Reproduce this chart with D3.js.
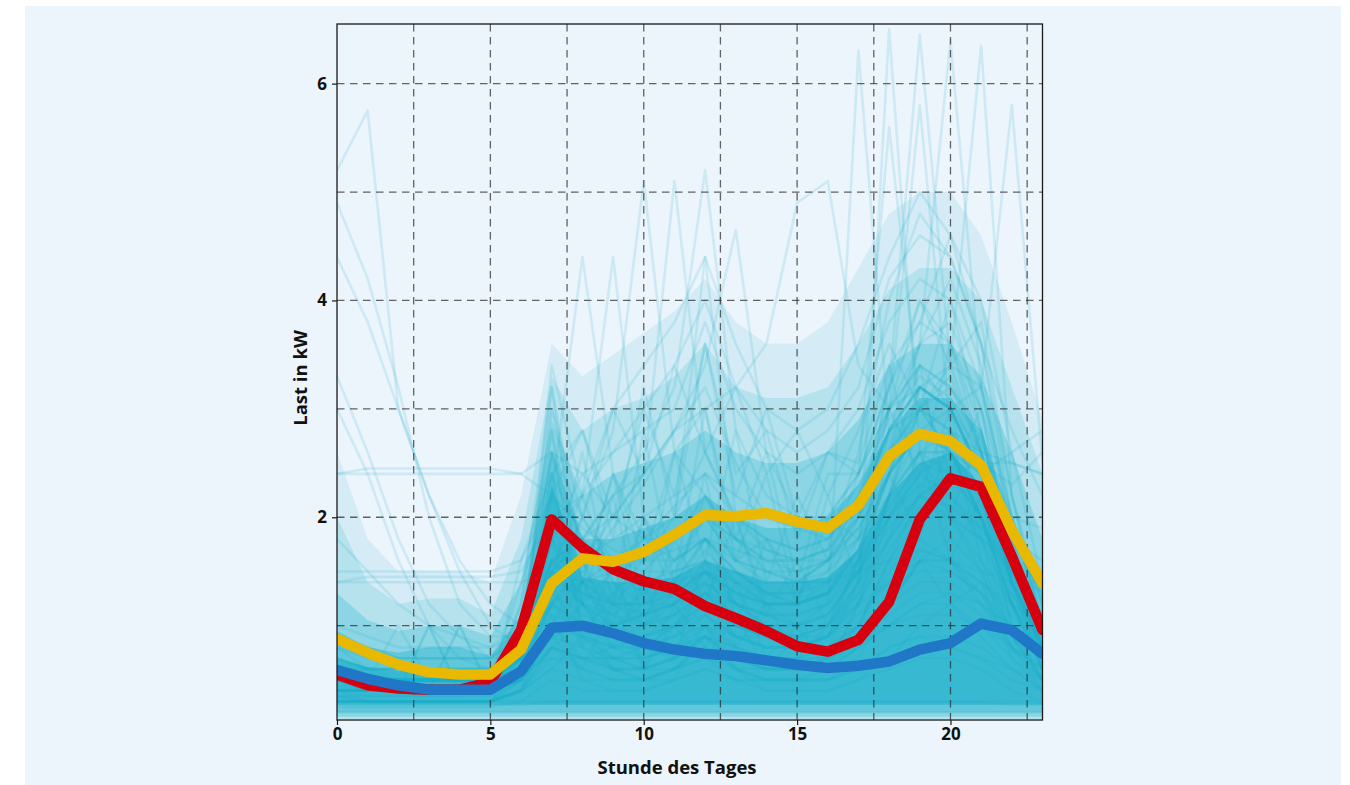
<!DOCTYPE html>
<html>
<head>
<meta charset="utf-8">
<script src="https://cdn.jsdelivr.net/npm/d3@7"></script>
<style>
  html, body { margin: 0; padding: 0; background: #ffffff; }
  svg { display: block; }
  text { font-family: "Open Sans", "Noto Sans", sans-serif; font-weight: 700; fill: #111; }
</style>
</head>
<body>
<svg id="chart" width="1350" height="785"></svg>
<script>
// ---------------- data ----------------
const hours = [0,1,2,3,4,5,6,7,8,9,10,11,12,13,14,15,16,17,18,19,20,21,22,23];

const xTickValues = [0, 5, 10, 15, 20];
const yTickValues = [2, 4, 6];
const xGridValues = [2.5, 5, 7.5, 10, 12.5, 15, 17.5, 20, 22.5];
const yGridValues = [1, 2, 3, 4, 5, 6];

const xTitle = "Stunde des Tages";
const yTitle = "Last in kW";

// highlighted average profiles (kW)
const redSeries    = [0.55,0.45,0.42,0.41,0.41,0.48,0.96,1.98,1.72,1.52,1.41,1.34,1.18,1.07,0.95,0.81,0.76,0.87,1.22,1.98,2.36,2.28,1.64,0.96];
const yellowSeries = [0.88,0.75,0.64,0.57,0.55,0.55,0.78,1.39,1.62,1.59,1.68,1.84,2.02,2.01,2.04,1.96,1.90,2.11,2.56,2.77,2.70,2.48,1.88,1.39];
const blueSeries   = [0.59,0.51,0.45,0.41,0.41,0.41,0.58,0.98,1.00,0.93,0.84,0.78,0.74,0.72,0.68,0.64,0.61,0.63,0.67,0.78,0.84,1.02,0.96,0.74];

// density of the many overlapping household curves: upper edges (kW) of nested layers
const cloudEdge1 = [2.6,1.8,1.5,1.5,1.5,1.4,2.2,3.6,3.3,3.5,3.7,3.9,4.2,3.8,3.6,3.6,3.8,4.3,4.8,5.0,5.0,4.6,3.8,2.9];
const cloudEdge2 = [2.0,1.4,1.2,1.25,1.25,1.1,1.8,3.3,2.8,3.0,3.1,3.3,3.6,3.2,3.1,3.1,3.2,3.6,4.1,4.3,4.3,4.0,3.2,2.4];
const cloudEdge3 = [1.3,1.05,0.95,1.0,1.0,0.9,1.4,2.9,2.2,2.4,2.5,2.6,2.8,2.6,2.5,2.5,2.6,2.9,3.4,3.6,3.6,3.3,2.6,1.8];
const cloudEdge4 = [0.95,0.8,0.75,0.8,0.8,0.72,1.1,2.6,1.8,1.8,1.9,2.0,2.2,2.0,1.9,1.9,2.0,2.3,2.8,3.1,3.1,2.8,2.0,1.4];
const cloudEdge5 = [0.7,0.62,0.58,0.6,0.6,0.58,0.9,2.3,1.45,1.4,1.4,1.45,1.6,1.5,1.4,1.4,1.45,1.7,2.2,2.5,2.6,2.3,1.6,1.05];
const cloudFloors = [0.14, 0.14, 0.16, 0.2, 0.27];

// individual household load profiles (kW)
const householdProfiles = [
  [.3,.3,.3,.3,.3,.3,.3,.3,.3,.3,.3,.3,.3,.3,.3,.3,.3,.3,.3,.3,.3,.3,.3,.3],
  [.2,.2,.2,.2,.2,.2,.2,.2,.2,.2,.2,.2,.2,.2,.2,.2,.2,.2,.2,.2,.2,.2,.2,.2],
  [.4,.35,.35,.35,.35,.4,.5,.9,.6,.5,.5,.6,.7,.5,.5,.5,.5,.6,.8,.9,.8,.7,.6,.5],
  [.5,.4,.4,.4,.4,.4,.8,1.6,1.2,.9,.8,.7,.9,.7,.6,.6,.6,.8,1.2,1.6,1.5,1.3,.9,.7],
  [.6,.5,.4,.4,.4,.5,1.2,2.6,1.8,1.3,1.1,1.2,1.5,1.0,.9,.8,.9,1.2,2.0,2.6,2.4,2.0,1.4,.9],
  [.3,.3,.3,.3,.3,.3,.4,1.1,.5,.4,.4,.5,1.0,.6,.4,.4,.4,.5,.7,1.0,1.2,.9,.6,.4],
  [.8,.6,.5,.5,.5,.5,.6,.9,1.4,2.4,1.2,2.6,1.6,2.8,1.4,2.2,1.6,1.9,2.4,3.4,2.0,2.8,1.6,1.1],
  [.5,.5,.5,.5,.5,.5,.6,.7,.7,.8,.9,1.0,1.1,.9,.9,.8,.8,.9,1.0,1.2,1.3,1.2,1.0,.7],
  [1.4,1.45,1.45,1.45,1.45,1.45,1.5,2.0,1.8,1.6,1.5,1.5,1.6,1.5,1.4,1.4,1.4,1.6,2.0,2.3,2.2,1.9,1.6,1.5],
  [2.4,2.45,2.45,2.45,2.45,2.45,2.4,2.2,1.5,1.2,1.0,1.1,1.3,1.0,.9,.9,1.0,1.4,1.8,2.2,2.4,2.5,2.5,2.4],
  [5.2,5.75,3.0,2.2,1.6,1.2,1.0,1.5,1.2,1.0,.9,1.0,1.2,1.0,.9,.9,1.0,1.3,1.8,2.2,2.0,1.8,1.6,1.4],
  [4.4,3.8,3.0,2.2,1.5,1.0,.8,1.2,.9,.7,.6,.7,.9,.7,.6,.6,.7,.9,1.3,1.7,1.6,1.4,1.2,1.0],
  [3.3,2.6,1.8,1.2,.9,.7,.7,1.3,1.0,.8,.8,.9,1.1,.9,.8,.8,.9,1.2,1.7,2.1,2.0,1.8,1.5,1.3],
  [.5,.4,.4,1.0,.4,.4,.7,3.4,2.2,1.4,1.0,1.3,1.8,1.2,1.0,.9,1.0,1.6,2.8,3.2,3.0,2.4,1.3,.8],
  [.4,.4,.4,.4,1.0,.4,.9,3.0,1.6,1.0,.8,1.0,1.4,.9,.8,.8,.9,1.3,2.2,3.0,3.3,2.6,1.5,.8],
  [.6,.5,.5,.5,.5,.5,1.4,2.2,2.8,2.0,3.0,2.2,3.6,2.4,2.8,1.8,2.6,2.5,3.4,3.8,3.6,3.0,2.0,1.2],
  [.3,.3,.3,.3,.3,.3,.5,1.8,.9,.6,.5,.6,.8,.6,.5,.5,.5,.7,1.2,1.6,1.8,1.5,.9,.5],
  [.7,.6,.6,.6,.6,.6,.8,1.2,1.5,1.9,2.3,2.8,3.2,2.5,2.0,1.9,1.8,2.1,2.8,3.4,3.2,2.7,1.9,1.2],
  [.4,.3,.3,.3,.3,.3,.4,.6,.9,1.3,1.6,2.0,4.4,2.0,1.2,1.0,1.1,1.5,2.0,2.4,2.6,2.2,1.2,.6],
  [.9,.8,.7,.7,.7,.7,.9,1.4,1.3,1.2,1.2,1.3,1.5,1.3,1.2,1.2,1.3,1.5,1.9,2.2,2.1,1.9,1.5,1.1],
  [.3,.3,.3,.3,.3,.3,.4,.8,.7,.7,.8,1.0,1.3,1.0,.9,.8,.9,1.4,6.5,2.6,2.0,1.5,.8,.5],
  [.4,.4,.4,.4,.4,.4,.6,1.2,1.0,.9,1.0,1.2,1.6,1.2,1.1,1.0,1.2,6.3,2.8,3.0,2.6,2.0,1.2,.7],
  [.5,.4,.4,.4,.4,.4,.7,1.5,1.2,1.0,1.1,1.4,1.8,1.4,1.2,1.2,1.4,2.0,3.2,6.45,3.4,2.6,1.5,.8],
  [.6,.5,.5,.5,.5,.5,.8,1.6,1.4,1.2,1.2,1.4,1.8,1.5,1.3,1.3,1.5,2.1,3.0,3.6,6.4,3.2,2.0,1.0],
  [.5,.5,.5,.5,.5,.5,.7,1.3,1.1,1.0,1.1,1.3,1.7,1.4,1.2,1.2,1.3,1.8,2.6,3.2,3.4,6.35,2.2,1.0],
  [.6,.5,.5,.5,.5,.5,.6,1.0,.9,.8,.9,1.1,1.5,1.2,1.0,1.0,1.1,1.5,2.2,2.8,3.0,3.2,5.8,2.5],
  [.4,.4,.4,.4,.4,.4,.6,1.4,1.2,1.1,1.3,1.6,2.0,1.6,1.5,1.4,1.6,2.4,5.6,3.0,2.6,2.0,1.2,.6],
  [.5,.4,.4,.4,.4,.4,.6,1.2,1.0,1.0,1.2,1.5,2.0,1.6,1.4,1.4,1.6,2.2,3.0,5.8,2.8,2.2,1.4,.8],
  [.4,.4,.4,.4,.4,.4,.8,1.6,1.8,2.2,2.6,3.2,5.2,2.8,2.2,2.0,2.0,2.4,3.0,3.4,3.0,2.4,1.4,.8],
  [.5,.5,.5,.5,.5,.5,.7,1.4,2.0,2.8,5.1,2.6,2.2,1.8,1.6,1.5,1.6,2.0,2.6,3.0,2.8,2.2,1.3,.7],
  [.5,.5,.5,.5,.5,.5,.7,1.5,1.8,2.2,2.4,5.1,2.6,2.0,1.7,1.6,1.7,2.1,2.8,3.2,3.0,2.4,1.4,.8],
  [.4,.4,.4,.4,.4,.4,.6,1.2,1.6,2.0,2.4,2.8,3.4,4.65,2.6,2.0,1.9,2.3,2.9,3.3,3.1,2.5,1.4,.7],
  [.4,.4,.4,.4,.4,.4,.7,2.2,4.4,2.4,1.8,1.6,1.8,1.5,1.3,1.2,1.3,1.7,2.4,2.8,2.6,2.0,1.2,.6],
  [.4,.4,.4,.4,.4,.4,.7,2.0,2.2,4.4,2.0,1.6,1.8,1.5,1.3,1.2,1.3,1.7,2.4,2.8,2.6,2.0,1.2,.6],
  [.6,.6,.6,.6,.6,.6,.8,1.6,1.8,2.0,2.4,2.8,3.0,3.2,3.6,4.9,5.1,3.4,3.0,3.2,3.0,2.4,1.5,.9],
  [.5,.5,.5,.5,.5,.5,.8,1.8,2.4,2.6,2.8,3.0,3.8,3.0,2.6,2.4,2.6,3.0,3.8,4.2,4.0,3.2,2.0,1.0],
  [.3,.3,.3,.3,.3,.3,.4,.6,.5,.5,.5,.6,.8,.6,.5,.5,.5,.6,.8,.9,.9,.8,.6,.4],
  [.35,.3,.3,.3,.3,.3,.4,.7,.6,.5,.5,.5,.6,.5,.5,.5,.5,.6,.7,.8,.8,.7,.5,.4],
  [.45,.4,.4,.4,.4,.4,.5,.8,.7,.7,.7,.8,.9,.8,.7,.7,.7,.8,1.0,1.1,1.1,1.0,.8,.6],
  [.6,.55,.5,.5,.5,.5,.7,1.1,1.0,.9,.9,1.0,1.2,1.0,.9,.9,.9,1.1,1.4,1.6,1.6,1.4,1.1,.8],
  [.25,.25,.25,.25,.25,.25,.3,.5,.4,.4,.4,.5,.6,.5,.4,.4,.4,.5,.6,.7,.7,.6,.4,.3],
  [.7,.6,.6,.6,.6,.6,.7,.9,1.0,1.0,1.1,1.2,1.3,1.2,1.1,1.0,1.0,1.2,1.4,1.5,1.5,1.3,1.0,.8],
  [.5,.5,1.0,.5,.5,.5,.6,1.0,.9,.8,.8,.9,1.0,.9,.8,.8,.8,1.0,1.2,1.4,1.4,1.2,.9,.6],
  [.4,.4,.4,1.0,.4,.4,.5,.8,.7,.6,.6,.7,.8,.7,.6,.6,.6,.8,1.0,1.2,1.2,1.0,.7,.5],
  [.4,.4,.4,.4,1.0,.4,.5,.9,.8,.7,.7,.8,.9,.8,.7,.7,.7,.9,1.1,1.3,1.3,1.1,.8,.5],
  [1.4,1.4,1.4,1.4,1.4,1.4,1.4,1.5,1.4,1.4,1.4,1.4,1.5,1.4,1.4,1.4,1.4,1.5,1.6,1.7,1.6,1.5,1.4,1.4],
  [1.5,1.5,1.5,1.5,1.5,1.5,1.6,2.2,1.9,1.7,1.6,1.6,1.8,1.6,1.5,1.5,1.6,1.9,2.4,2.8,2.6,2.2,1.8,1.6],
  [2.4,2.4,2.4,2.4,2.4,2.4,2.4,2.6,2.0,1.6,1.4,1.5,1.6,1.4,1.3,1.3,1.4,1.7,2.2,2.6,2.8,2.6,2.5,2.4],
  [.9,.8,.7,.7,.7,.7,1.0,2.6,2.4,2.0,1.8,1.8,2.0,1.8,1.7,1.6,1.7,2.0,2.6,3.0,2.8,2.4,1.6,1.1],
  [.4,.4,.4,.4,.4,.4,1.2,3.2,1.6,.9,.7,.8,1.0,.8,.7,.7,.8,1.4,2.6,3.6,3.8,3.0,1.6,.7],
  [.5,.4,.4,.4,.4,.4,1.0,2.8,1.4,.9,.8,.9,1.2,.9,.8,.8,.9,1.6,3.0,4.0,3.6,2.8,1.5,.7],
  [.3,.3,.3,.3,.3,.3,.6,2.4,1.0,.6,.5,.6,.9,.6,.5,.5,.6,1.2,2.2,3.0,3.4,3.2,1.8,.6],
  [.6,.5,.5,.5,.5,.5,.9,1.8,2.2,2.6,3.0,3.4,4.0,3.2,2.8,2.6,2.8,3.2,4.2,4.6,4.4,3.6,2.2,1.2],
  [.5,.5,.5,.5,.5,.5,.6,1.0,1.4,2.4,1.6,2.6,3.0,1.8,2.6,1.4,2.4,2.4,3.0,3.4,3.2,2.8,1.8,1.0],
  [.4,.4,.4,.4,.4,.4,.5,.9,1.2,1.5,1.8,2.1,2.4,2.0,1.8,1.7,1.8,2.1,2.8,3.6,4.2,3.4,1.8,.8],
  [.7,.6,.6,.6,.6,.6,.8,1.4,1.6,1.8,2.0,2.2,2.4,2.2,2.0,1.9,2.0,2.4,3.2,3.8,4.6,4.0,2.6,1.4],
  [.8,.7,.7,.7,.7,.7,.9,1.3,1.4,1.5,1.6,1.8,2.0,1.8,1.6,1.6,1.7,2.6,4.0,4.8,4.4,3.6,2.8,2.2],
  [3.0,2.4,1.6,1.0,.7,.6,.7,1.6,1.3,1.1,1.0,1.1,1.3,1.1,1.0,1.0,1.1,1.5,2.2,2.6,2.6,2.4,2.6,2.8],
  [1.8,1.5,1.2,1.0,.9,.8,.9,1.5,1.3,1.2,1.2,1.3,1.5,1.3,1.2,1.2,1.3,1.6,2.1,2.5,2.4,2.2,2.0,1.9],
  [4.9,4.2,3.2,2.0,1.2,.9,.9,1.8,1.4,1.2,1.1,1.2,1.4,1.2,1.1,1.1,1.2,1.6,2.4,2.8,2.7,2.5,2.3,2.6],
  [.27,.27,.27,.27,.27,.27,.27,.3,.3,.3,.3,.3,.3,.3,.3,.3,.3,.3,.3,.3,.3,.3,.27,.27],
  [.5,.45,.45,.45,.45,.45,.6,2.0,1.0,.7,.6,.6,.7,.6,.6,.6,.7,1.0,1.5,1.8,1.6,1.2,.8,.6],
  [.6,.5,.5,.5,.5,.5,.8,2.4,1.8,1.4,1.2,1.2,1.4,1.2,1.1,1.1,1.2,1.5,2.0,2.4,2.2,1.8,1.2,.8],
  [.5,.5,.5,.5,.5,.5,.7,3.0,2.0,1.5,1.3,1.3,1.5,1.3,1.2,1.2,1.3,1.7,2.4,3.2,3.0,2.4,1.4,.8],
  [1.0,.9,.8,.8,.8,.8,1.0,1.6,1.6,1.6,1.6,1.7,1.8,1.7,1.6,1.6,1.6,1.8,2.2,2.6,2.6,2.4,1.8,1.3],
  [.6,.6,.6,.6,.6,.6,.8,1.3,2.0,3.0,3.4,3.8,4.4,3.6,3.0,2.8,3.0,3.6,4.4,5.0,4.6,3.6,2.0,1.0],
  [.4,.4,.4,.4,.4,.4,.5,.8,1.0,1.2,1.5,1.8,2.2,1.8,1.5,1.4,1.5,1.8,2.4,3.0,3.2,2.6,1.4,.6],
  [.5,.5,.5,.5,.5,.5,.6,1.2,1.4,1.6,1.8,2.0,2.6,2.0,1.8,1.7,1.8,2.2,2.8,3.2,3.0,2.4,1.4,.8],
  [.3,.3,.3,.3,.3,.3,.4,1.0,.7,.6,.6,.7,1.0,.7,.6,.6,.6,.8,1.2,1.6,1.6,1.3,.8,.4],
  [.35,.35,.35,.35,.35,.35,.5,1.4,.8,.6,.6,.7,.9,.7,.6,.6,.7,1.0,1.6,2.0,2.0,1.6,.9,.5],
  [.6,.5,.5,.5,.5,.5,.8,1.8,1.2,2.2,1.0,1.8,1.2,2.0,1.1,1.6,1.0,1.6,2.4,1.8,2.8,1.6,1.2,.7],
  [.4,.4,.4,.4,.4,.4,.6,2.6,1.4,1.0,2.0,1.2,2.4,1.0,1.8,1.2,2.2,1.4,2.2,3.2,2.4,3.0,1.6,.8],
  [.5,.5,.5,.5,.5,.5,.7,1.4,2.6,1.2,2.8,1.4,3.0,1.6,2.4,1.2,2.0,1.8,3.0,2.4,3.6,2.6,1.4,.8],
  [.3,.3,.3,.3,.3,.3,.5,2.8,.8,1.6,.6,1.2,.8,1.4,.7,1.0,.6,1.2,1.8,2.6,1.6,2.2,1.0,.5],
  [.4,.4,.4,.4,.4,.4,.6,3.2,1.2,.8,1.4,.7,1.6,.8,1.2,.7,1.0,1.4,3.4,2.2,3.0,1.8,.9,.5],
  [.35,.3,.3,.3,.3,.3,.4,.8,.6,1.2,.6,1.0,.7,1.1,.6,.9,.6,.9,1.2,1.6,1.2,1.4,.7,.4],
  [.5,.4,.4,.4,.4,.4,.6,1.5,2.2,3.0,2.4,3.4,2.6,3.2,2.4,2.8,2.2,2.8,3.6,3.0,4.0,2.8,1.6,.8],
  [.6,.5,.5,.5,.5,.5,.7,2.4,2.8,1.8,3.2,2.0,3.6,2.2,3.0,2.0,2.6,2.4,3.2,4.0,3.4,3.8,2.2,1.0],
  [.4,.4,.4,.4,.4,.4,.5,1.0,1.6,1.2,2.0,1.4,2.2,1.6,1.8,1.4,1.6,2.0,2.8,3.2,3.0,2.6,1.4,.6],
  [.4,.4,.4,.4,.4,.4,1.6,2.4,1.2,.8,.7,.8,1.1,.8,.7,.7,.8,1.0,1.6,2.2,2.4,2.0,1.0,.5]
];

// ---------------- chart ----------------
const svg = d3.select("#chart");
const plot = { left: 337, right: 1042.5, top: 24, bottom: 720 };
const cloudColor = "#1cb0cc";

svg.append("rect")
  .attr("x", 25).attr("y", 6).attr("width", 1316).attr("height", 779)
  .attr("fill", "#ecf4fc");

const x = d3.scaleLinear().domain([0, 23]).range([plot.left, plot.right]);
const y = d3.scaleLinear().domain([0.13, 6.55]).range([plot.bottom, plot.top]);

svg.append("defs").append("clipPath").attr("id", "plotClip")
  .append("rect")
  .attr("x", plot.left).attr("y", plot.top)
  .attr("width", plot.right - plot.left).attr("height", plot.bottom - plot.top);

const line = d3.line()
  .x((d, i) => x(hours[i]))
  .y(d => y(d));

const dataLayer = svg.append("g").attr("clip-path", "url(#plotClip)");

// density layers of the overlapping curves
const cloudEdges = [cloudEdge1, cloudEdge2, cloudEdge3, cloudEdge4, cloudEdge5];
const cloudOpacities = [0.11, 0.17, 0.27, 0.38, 0.58];
const area = d3.area()
  .x(d => x(d.h))
  .y0(d => y(d.lo))
  .y1(d => y(d.hi));
dataLayer.append("g")
  .selectAll("path")
  .data(cloudEdges.map((edge, k) => ({ edge, floor: cloudFloors[k], opacity: cloudOpacities[k] })))
  .join("path")
  .attr("d", b => area(b.edge.map((v, i) => ({ h: hours[i], lo: b.floor, hi: v }))))
  .attr("fill", cloudColor)
  .attr("fill-opacity", b => b.opacity);

// faint household profiles
dataLayer.append("g")
  .selectAll("path")
  .data(householdProfiles)
  .join("path")
  .attr("d", line)
  .attr("fill", "none")
  .attr("stroke", cloudColor)
  .attr("stroke-opacity", 0.15)
  .attr("stroke-width", 2.6)
  .attr("stroke-linejoin", "round");

// grid
const grid = svg.append("g")
  .attr("stroke", "#2a2a2a")
  .attr("stroke-opacity", 0.72)
  .attr("stroke-width", 1.3)
  .attr("stroke-dasharray", "7.5,5.5");

grid.selectAll("line.gy")
  .data(yGridValues)
  .join("line")
  .attr("class", "gy")
  .attr("x1", plot.left).attr("x2", plot.right)
  .attr("y1", d => y(d)).attr("y2", d => y(d));

grid.selectAll("line.gx")
  .data(xGridValues)
  .join("line")
  .attr("class", "gx")
  .attr("y1", plot.top).attr("y2", plot.bottom)
  .attr("x1", d => x(d)).attr("x2", d => x(d));

// highlighted lines
const highlight = [
  { values: redSeries, color: "#d7000f" },
  { values: yellowSeries, color: "#e9b800" },
  { values: blueSeries, color: "#2077c7" }
];
const thickLayer = svg.append("g").attr("clip-path", "url(#plotClip)");
thickLayer.selectAll("path")
  .data(highlight)
  .join("path")
  .attr("d", d => line(d.values))
  .attr("fill", "none")
  .attr("stroke", d => d.color)
  .attr("stroke-width", 10.5)
  .attr("stroke-linejoin", "round")
  .attr("stroke-linecap", "round");

// frame
svg.append("rect")
  .attr("x", plot.left).attr("y", plot.top)
  .attr("width", plot.right - plot.left).attr("height", plot.bottom - plot.top)
  .attr("fill", "none")
  .attr("stroke", "#1a1a1a")
  .attr("stroke-width", 1.3);

// axes
const xAxis = svg.append("g")
  .attr("transform", `translate(0,${plot.bottom})`)
  .call(d3.axisBottom(x).tickValues(xTickValues).tickSize(5).tickPadding(3).tickFormat(d3.format("d")));
const yAxis = svg.append("g")
  .attr("transform", `translate(${plot.left},0)`)
  .call(d3.axisLeft(y).tickValues(yTickValues).tickSize(5).tickPadding(5).tickFormat(d3.format("d")));

[xAxis, yAxis].forEach(a => {
  a.select(".domain").remove();
  a.selectAll(".tick line").attr("stroke", "#1a1a1a").attr("stroke-width", 1.2);
  a.selectAll(".tick text")
    .attr("fill", "#111")
    .style("font-family", '"Open Sans", "Noto Sans", sans-serif')
    .style("font-weight", 700)
    .style("font-size", "17px");
});

svg.append("text")
  .attr("x", 677).attr("y", 774)
  .attr("text-anchor", "middle")
  .style("font-size", "18.5px")
  .text(xTitle);

svg.append("text")
  .attr("transform", `translate(307,378) rotate(-90)`)
  .attr("text-anchor", "middle")
  .style("font-size", "18.5px")
  .text(yTitle);
</script>
</body>
</html>
